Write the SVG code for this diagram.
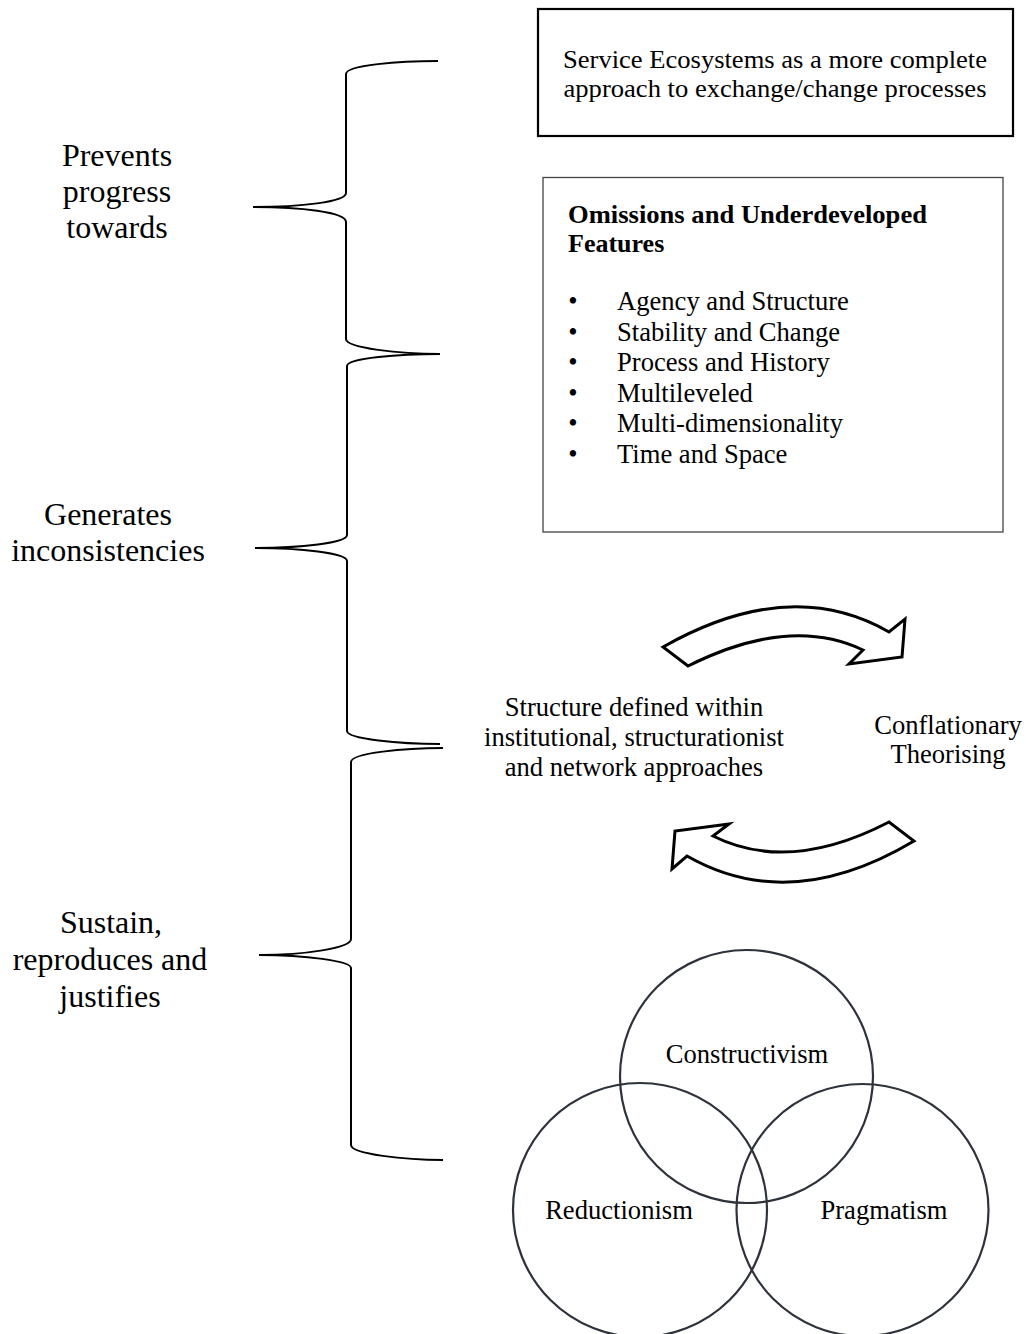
<svg xmlns="http://www.w3.org/2000/svg" width="1029" height="1334" viewBox="0 0 1029 1334">
<style>
text{font-family:"Liberation Serif","Times New Roman",serif;fill:#000}
.lbl{font-size:32px;text-anchor:middle}
.t{font-size:26.6px}
.s{font-size:26px}
.c{text-anchor:middle}
.brace{fill:none;stroke:#000;stroke-width:2}
.arrow{fill:#fff;stroke:#000;stroke-width:3;stroke-linejoin:miter}
.circ{fill:none;stroke:#2e333b;stroke-width:2.2}
</style>
<rect width="1029" height="1334" fill="#fff"/>
<g id="connectors">
<path class="brace" d="M438 61 C400 61 346 65 346 74 L346 193 C346 202 300 207 253 207 C300 207 346 212 346 222 L346 339 C346 348 400 354 440 354"/>
<path class="brace" d="M440 354 C400 354 347 358 347 366 L347 535 C347 543 300 548 255 548 C300 548 347 553 347 561 L347 731 C347 739 400 744 440 744"/>
<path class="brace" d="M443 748 C405 748 351 753 351 762 L351 939 C351 948 305 955 259 955 C305 955 351 961 351 968 L351 1145 C351 1154 405 1160 443 1160"/>
<path id="arrow-top" class="arrow" d="M663 647 Q790 575 889 632 L905 619 L902 657 L849 664 L863 650 Q790 615 688 666 Z"/>
<path id="arrow-bottom" class="arrow" d="M914 841 Q790 915 687 856 L672 869 L675 831 L729 824 L713 836 Q789 874 889 822 Z"/>
</g>
<g id="label-prevents">
<text class="lbl" x="117" y="166">Prevents</text>
<text class="lbl" x="117" y="202">progress</text>
<text class="lbl" x="117" y="238">towards</text>
</g>
<g id="label-generates">
<text class="lbl" x="108" y="525">Generates</text>
<text class="lbl" x="108" y="561">inconsistencies</text>
</g>
<g id="label-sustain">
<text class="lbl" x="111" y="933">Sustain,</text>
<text class="lbl" x="110" y="970">reproduces and</text>
<text class="lbl" x="110" y="1007">justifies</text>
</g>
<g id="box-service">
<rect x="538" y="9" width="475" height="127" fill="#fff" stroke="#000" stroke-width="2.2"/>
<text class="t c" x="775" y="68" textLength="424" lengthAdjust="spacingAndGlyphs" style="font-size:26px">Service Ecosystems as a more complete</text>
<text class="t c" x="775" y="97" textLength="423" lengthAdjust="spacingAndGlyphs" style="font-size:26px">approach to exchange/change processes</text>
</g>
<g id="box-omissions">
<rect x="543" y="177.5" width="460" height="354.5" fill="#fff" stroke="#444" stroke-width="1.3"/>
<text class="t" x="568" y="223" font-weight="bold" textLength="359" lengthAdjust="spacingAndGlyphs" style="font-size:26px">Omissions and Underdeveloped</text>
<text class="t" x="568" y="252" font-weight="bold" style="font-size:26px">Features</text>
<text class="t c" x="573" y="310">•</text><text class="t" x="617" y="310">Agency and Structure</text>
<text class="t c" x="573" y="341">•</text><text class="t" x="617" y="341">Stability and Change</text>
<text class="t c" x="573" y="371">•</text><text class="t" x="617" y="371">Process and History</text>
<text class="t c" x="573" y="402">•</text><text class="t" x="617" y="402">Multileveled</text>
<text class="t c" x="573" y="432">•</text><text class="t" x="617" y="432">Multi-dimensionality</text>
<text class="t c" x="573" y="463">•</text><text class="t" x="617" y="463">Time and Space</text>
</g>
<g id="node-structure">
<text class="t c" x="634" y="716">Structure defined within</text>
<text class="t c" x="634" y="746">institutional, structurationist</text>
<text class="t c" x="634" y="776">and network approaches</text>
</g>
<g id="node-conflationary">
<text class="t c" x="948" y="734">Conflationary</text>
<text class="t c" x="948" y="763">Theorising</text>
</g>
<g id="circle-constructivism">
<circle class="circ" cx="746.5" cy="1076.5" r="126.5"/>
<text class="t c" x="747" y="1063">Constructivism</text>
</g>
<g id="circle-reductionism">
<circle class="circ" cx="640" cy="1210" r="127"/>
<text class="t c" x="619" y="1219">Reductionism</text>
</g>
<g id="circle-pragmatism">
<circle class="circ" cx="862.5" cy="1210" r="126"/>
<text class="t c" x="884" y="1219">Pragmatism</text>
</g>
</svg>
